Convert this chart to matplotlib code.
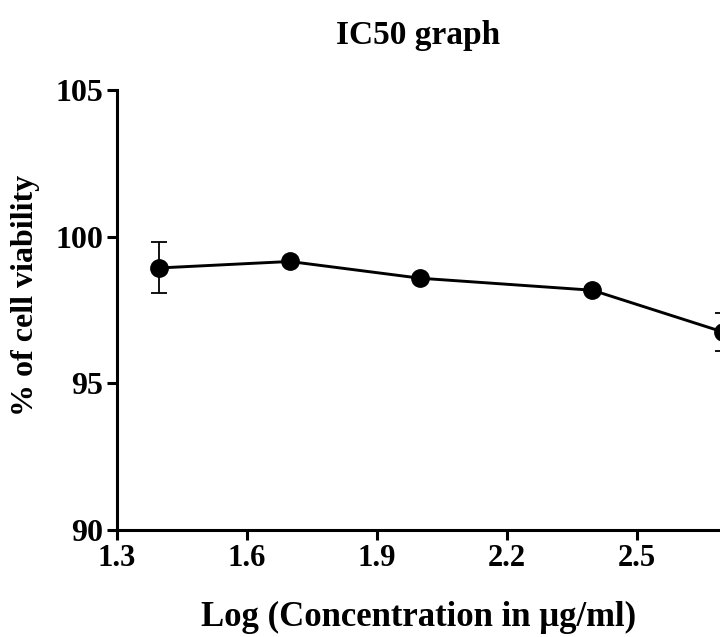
import matplotlib
matplotlib.use("Agg")
import matplotlib.pyplot as plt

# log10 of 25, 50, 100, 250, 500 ug/ml
log_conc = [1.398, 1.699, 2.0, 2.398, 2.699]
viability = [98.93, 99.15, 98.58, 98.17, 96.75]
sem = [0.87, 0.10, 0.10, 0.10, 0.66]

x_ticks = [1.3, 1.6, 1.9, 2.2, 2.5]
y_ticks = [90, 95, 100, 105]

plt.rcParams['font.family'] = ['Liberation Serif', 'DejaVu Serif']
plt.rcParams['font.weight'] = 'bold'

fig = plt.figure(figsize=(7.2, 6.37), dpi=100)
ax = fig.add_axes([0.1625, 0.168, 0.8375, 0.691])

ax.errorbar(log_conc, viability, yerr=sem, color='black', lw=2.1,
            marker='o', ms=12.5, elinewidth=1.3, capsize=6, capthick=1.3,
            clip_on=False, zorder=3)

ax.set_xlim(1.3, 2.6926)
ax.set_ylim(90, 105)
ax.set_xticks(x_ticks)
ax.set_yticks(y_ticks)
ax.set_xticklabels([f"{t:.1f}" for t in x_ticks], fontsize=22, fontweight='bold')
ax.set_yticklabels([str(t) for t in y_ticks], fontsize=23, fontweight='bold')

for side in ['top', 'right']:
    ax.spines[side].set_visible(False)
for side in ['left', 'bottom']:
    ax.spines[side].set_linewidth(2.2)
ax.tick_params(width=2.2, length=7, direction='out', pad=3)

ax.set_title('IC50 graph', fontsize=24, fontweight='bold', pad=33)
ax.set_xlabel('Log (Concentration in \u03bcg/ml)', fontsize=25, fontweight='bold', labelpad=20)
ax.set_ylabel('% of cell viability', fontsize=23, fontweight='bold')
ax.yaxis.set_label_coords(-0.128, 0.534)

fig.savefig('out.png', dpi=100)
